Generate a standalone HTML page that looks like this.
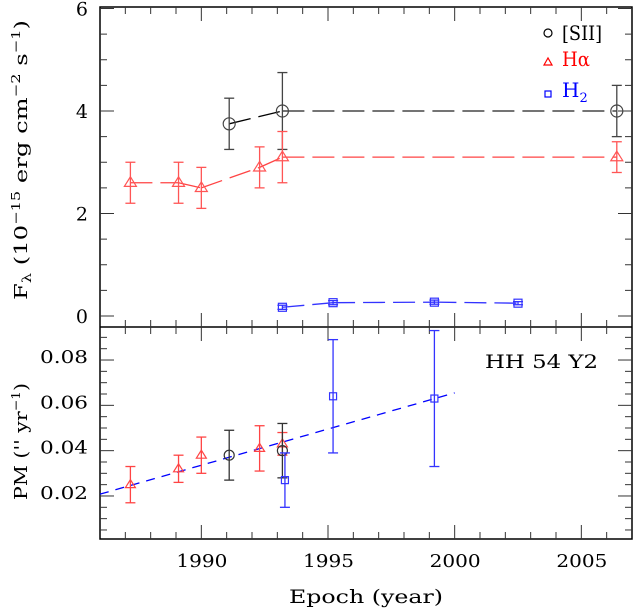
<!DOCTYPE html>
<html><head><meta charset="utf-8"><style>
html,body{margin:0;padding:0;background:#fff;width:633px;height:609px;overflow:hidden}
svg text{font-family:"DejaVu Serif","Liberation Serif",serif;}
</style></head><body>
<svg id="chart" width="633" height="609" viewBox="0 0 633 609" xmlns="http://www.w3.org/2000/svg">
<g id="axes"></g><g id="marks"></g>
<text x="289" y="603" font-size="19" textLength="154" lengthAdjust="spacingAndGlyphs">Epoch (year)</text>
<text transform="translate(27,300) rotate(-90)" font-size="18" textLength="280" lengthAdjust="spacingAndGlyphs">F<tspan font-size="12" dy="4">λ</tspan><tspan dy="-4"> (10</tspan><tspan font-size="12" dy="-7">−15</tspan><tspan dy="7"> erg cm</tspan><tspan font-size="12" dy="-7">−2</tspan><tspan dy="7"> s</tspan><tspan font-size="12" dy="-7">−1</tspan><tspan dy="7">)</tspan></text>
<text transform="translate(27,500) rotate(-90)" font-size="18" textLength="117" lengthAdjust="spacingAndGlyphs">PM ('' yr<tspan font-size="12" dy="-7">−1</tspan><tspan dy="7">)</tspan></text>
<text x="485" y="368" font-size="19" textLength="113" lengthAdjust="spacingAndGlyphs">HH 54 Y2</text>
<g>
<circle cx="548" cy="33" r="4" fill="none" stroke="#000" stroke-width="1.2"/>
<text x="562" y="40" font-size="20" textLength="40" lengthAdjust="spacingAndGlyphs">[SII]</text>
<path d="M544,65 L548,58 L552,65 Z" fill="none" stroke="#f00" stroke-width="1.2"/>
<text x="562" y="66" font-size="20" fill="#f00" textLength="28" lengthAdjust="spacingAndGlyphs">Hα</text>
<rect x="545" y="91" width="6" height="6" fill="none" stroke="#00f" stroke-width="1.2"/>
<text x="562" y="97" font-size="20" fill="#00f">H<tspan font-size="13" dy="5">2</tspan></text>
</g>
</svg>
<script>
// Top panel data (flux)
const siiYears=[1991.1,1993.2,2006.4];
const siiFlux=[3.75,4.0,4.0];
const siiFluxErr=[0.5,0.75,0.5];
const haYears=[1987.2,1989.1,1990.0,1992.3,1993.2,2006.4];
const haFlux=[2.6,2.6,2.5,2.9,3.1,3.1];
const haFluxErr=[0.4,0.4,0.4,0.4,0.5,0.3];
const h2Years=[1993.2,1995.2,1999.2,2002.5];
const h2Flux=[0.17,0.26,0.27,0.25];
const h2FluxErr=[0.04,0.04,0.04,0.03];
// Bottom panel data (proper motion)
const haPmYears=[1987.2,1989.1,1990.0,1992.3,1993.2];
const haPm=[0.025,0.032,0.038,0.041,0.043];
const haPmErr=[0.008,0.006,0.008,0.010,0.005];
const siiPmYears=[1991.1,1993.2];
const siiPm=[0.038,0.040];
const siiPmErr=[0.011,0.012];
const h2PmYears=[1993.3,1995.2,1999.2];
const h2Pm=[0.027,0.064,0.063];
const h2PmErr=[0.012,0.025,0.030];
const fitYears=[1986,2000];
const fitPm=[0.0208,0.0655];
const xTicks=[1990,1995,2000,2005];
const topTicks=[0,2,4,6];
const botTicks=[0.02,0.04,0.06,0.08];

const NS="http://www.w3.org/2000/svg";
const L=100,R=632,T=7,M=327,B=539;
const X=v=>L+(v-1986)*(R-L)/21;
const YT=v=>316-v*51.25;
const YB=v=>541.3-v*2266;
const axes=document.getElementById('axes'),marks=document.getElementById('marks');
function el(tag,attrs,parent){const e=document.createElementNS(NS,tag);for(const k in attrs)e.setAttribute(k,attrs[k]);parent.appendChild(e);return e;}
function line(x1,y1,x2,y2,st,w,p,dash){return el('line',{x1,y1,x2,y2,stroke:st,'stroke-width':w||1.2,'stroke-dasharray':dash||'none'},p);}

const fr=el('rect',{x:L,y:T,width:R-L,height:B-T,fill:'none',stroke:'#000','stroke-width':1.5},axes);


const sep=line(L,M,R,M,'#000',1.5,axes);


for(let yr=1987;yr<=2006;yr++){const x=X(yr);const maj=yr%5===0;const len=maj?14:7;
 line(x,T,x,T+len,'#333',1,axes);line(x,M,x,M-len,'#333',1,axes);
 line(x,M,x,M+len,'#333',1,axes);line(x,B,x,B-len,'#333',1,axes);}
xTicks.forEach(v=>{const t=el('text',{x:X(v)-25,y:567,'font-size':18,textLength:51,lengthAdjust:'spacingAndGlyphs'},axes);t.textContent=v;
 
 });
for(let v=0;v<=6.01;v+=0.5){const y=YT(v);const len=(Math.abs(v-Math.round(v/2)*2)<0.01)?14:7;
 line(L,y,L+len,y,'#333',1,axes);line(R,y,R-len,y,'#333',1,axes);}
topTicks.forEach(v=>{const t=el('text',{x:88,y:YT(v)+7,'font-size':19,'text-anchor':'end'},axes);t.textContent=v;
 
 });
for(let i=1;i<=18;i++){const v=i*0.005;const y=YB(v);if(y<M+2)continue;const len=(i%4===0)?14:7;
 line(L,y,L+len,y,'#333',1,axes);line(R,y,R-len,y,'#333',1,axes);}
botTicks.forEach(v=>{const t=el('text',{x:40,y:YB(v)+3,'font-size':18,textLength:48,lengthAdjust:'spacingAndGlyphs'},axes);t.textContent=v.toFixed(2);
 
 });

function err(x,y1,y2,c,op){const g=el('g',{opacity:op||1},marks);line(x,y1,x,y2,c,1.3,g);line(x-5,y1,x+5,y1,c,1.3,g);line(x-5,y2,x+5,y2,c,1.3,g);return g;}
function marker(type,x,y,c,s){let m;
 if(type==='c')m=el('circle',{cx:x,cy:y,r:s||6,fill:'none',stroke:c,'stroke-width':1.2},marks);
 else if(type==='t'){const r=s||6;m=el('path',{d:`M${x-r},${y+r*0.6} L${x},${y-r} L${x+r},${y+r*0.6} Z`,fill:'none',stroke:c,'stroke-width':1.2},marks);}
 else {const r=s||4;m=el('rect',{x:x-r,y:y-r,width:2*r,height:2*r,fill:'none',stroke:c,'stroke-width':1.2},marks);}
 return m;}
function series(xs,ys,es,Y,c,type,name,size,op){
 xs.forEach((v,i)=>{const x=X(v);const g=err(x,Y(ys[i]+es[i]),Y(ys[i]-es[i]),c,op);
  
  
  const m=marker(type,x,Y(ys[i]),c,size);
  
  });}
function conn(xs,ys,Y,c,dash){for(let i=0;i<xs.length-1;i++){const l=line(X(xs[i]),Y(ys[i]),X(xs[i+1]),Y(ys[i+1]),c,1.3,marks,dash);
 
 }}

conn(siiYears.slice(0,2),siiFlux.slice(0,2),YT,'#000','22 8');
conn(siiYears.slice(1),siiFlux.slice(1),YT,'#222','22 8');
conn(haYears,haFlux,YT,'#f44','22 8');
conn(h2Years,h2Flux,YT,'#33f','22 8');
series(siiYears,siiFlux,siiFluxErr,YT,'#444','c','sii-flux',6);
series(haYears,haFlux,haFluxErr,YT,'#f55','t','halpha-flux',6);
series(h2Years,h2Flux,h2FluxErr,YT,'#33f','s','h2-flux',4);
const fit=line(X(fitYears[0]),YB(fitPm[0]),X(fitYears[1]),YB(fitPm[1]),'#00f',1.3,marks,'9 7');


series(haPmYears,haPm,haPmErr,YB,'#f44','t','halpha-pm',5);
series(siiPmYears,siiPm,siiPmErr,YB,'#333','c','sii-pm',5);
series(h2PmYears,h2Pm,h2PmErr,YB,'#33f','s','h2-pm',3.5);
</script>
</body></html>
